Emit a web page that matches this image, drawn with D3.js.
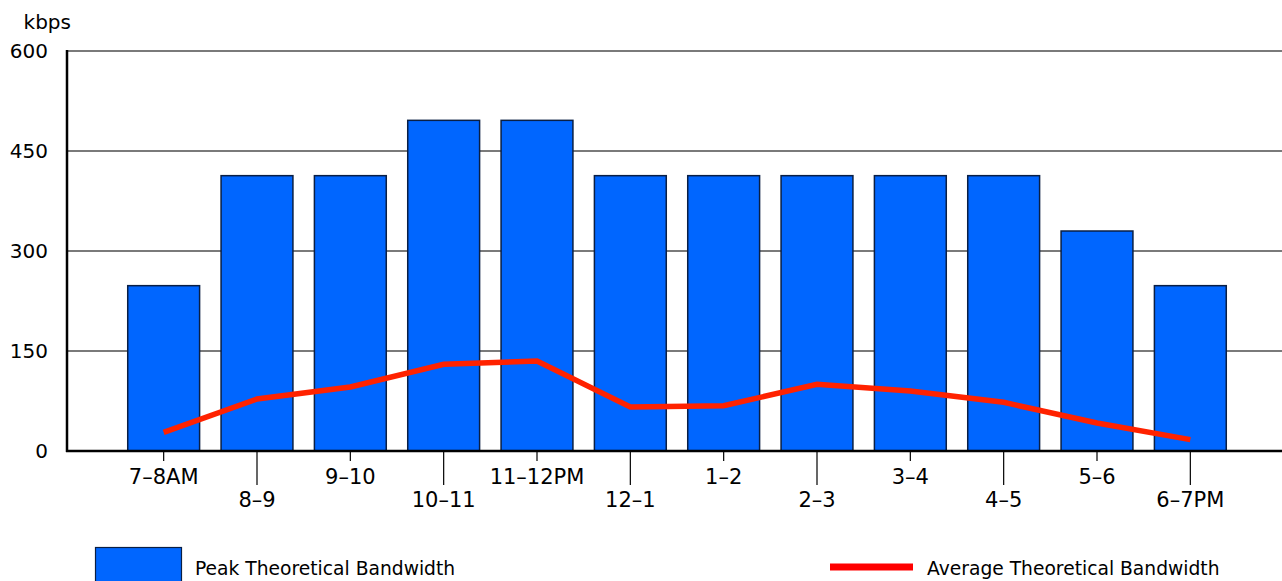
<!DOCTYPE html>
<html><head><meta charset="utf-8">
<script src="https://cdn.jsdelivr.net/npm/d3@7"></script>
<style>body{margin:0;background:#fff;}svg{display:block;font-family:"DejaVu Sans",Verdana,sans-serif;}</style>
</head><body><svg id="c" width="1282" height="581"></svg>
<script>
const categories = ["7–8AM","8–9","9–10","10–11","11–12PM","12–1","1–2","2–3","3–4","4–5","5–6","6–7PM"];
const peak = [248,413,413,496,496,413,413,413,413,413,330,248];
const average = [28,78,96,130,135,66,68,100,90,73,42,17];
const yTicks = [0,150,300,450,600];
const seriesNames = ["Peak Theoretical Bandwidth","Average Theoretical Bandwidth"];

const svg = d3.select("#c");
const x = d3.scaleBand().domain(categories).range([117,1237]).paddingInner(0.23).paddingOuter(0.115);
const y = d3.scaleLinear().domain([0,600]).range([451,51]);

// gridlines
svg.append("g").selectAll("line").data(yTicks.filter(d=>d>0)).join("line")
  .attr("x1",68).attr("x2",1282).attr("y1",d=>y(d)).attr("y2",d=>y(d))
  .attr("stroke","#7a7a7a").attr("stroke-width",2.2);

// y tick labels
svg.append("g").selectAll("text").data(yTicks).join("text")
  .attr("x",48).attr("y",d=>y(d)+7).attr("text-anchor","end")
  .attr("font-size",20).attr("fill","#000").text(d=>d);
svg.append("text").attr("x",71).attr("y",29).attr("text-anchor","end")
  .attr("font-size",20).text("kbps");

// bars
svg.append("g").selectAll("rect").data(peak).join("rect")
  .attr("x",(d,i)=>x(categories[i])).attr("width",x.bandwidth())
  .attr("y",d=>y(d)).attr("height",d=>y(0)-y(d))
  .attr("fill","#0066ff").attr("stroke","#0a1f44").attr("stroke-width",1.5);

// axes lines
svg.append("line").attr("x1",67).attr("x2",67).attr("y1",50).attr("y2",452).attr("stroke","#000").attr("stroke-width",2.5);
svg.append("line").attr("x1",66).attr("x2",1282).attr("y1",451).attr("y2",451).attr("stroke","#000").attr("stroke-width",2.5);

// x ticks
const cx = c => x(c)+x.bandwidth()/2;
svg.append("g").selectAll("line").data(categories).join("line")
  .attr("x1",d=>cx(d)).attr("x2",d=>cx(d)).attr("y1",452)
  .attr("y2",(d,i)=>i%2===0?461:485).attr("stroke","#000").attr("stroke-width",1.2);
svg.append("g").selectAll("text").data(categories).join("text")
  .attr("x",d=>cx(d)).attr("y",(d,i)=>i%2===0?484:507).attr("text-anchor","middle")
  .attr("font-size",21).text(d=>d);

// line
const line = d3.line().x((d,i)=>cx(categories[i])).y(d=>y(d));
svg.append("path").datum(average).attr("d",line).attr("fill","none")
  .attr("stroke","#ff2200").attr("stroke-width",5.5).attr("stroke-linejoin","miter");

// legend
svg.append("rect").attr("x",95.5).attr("y",547.5).attr("width",86).attr("height",40)
  .attr("fill","#0066ff").attr("stroke","#0a1f44").attr("stroke-width",1.2);
svg.append("text").attr("x",195).attr("y",575).attr("font-size",18.7).text(seriesNames[0]);
svg.append("line").attr("x1",830).attr("x2",913).attr("y1",567).attr("y2",567)
  .attr("stroke","#ff0000").attr("stroke-width",7);
svg.append("text").attr("x",927).attr("y",575).attr("font-size",18.7).text(seriesNames[1]);
</script></body></html>
